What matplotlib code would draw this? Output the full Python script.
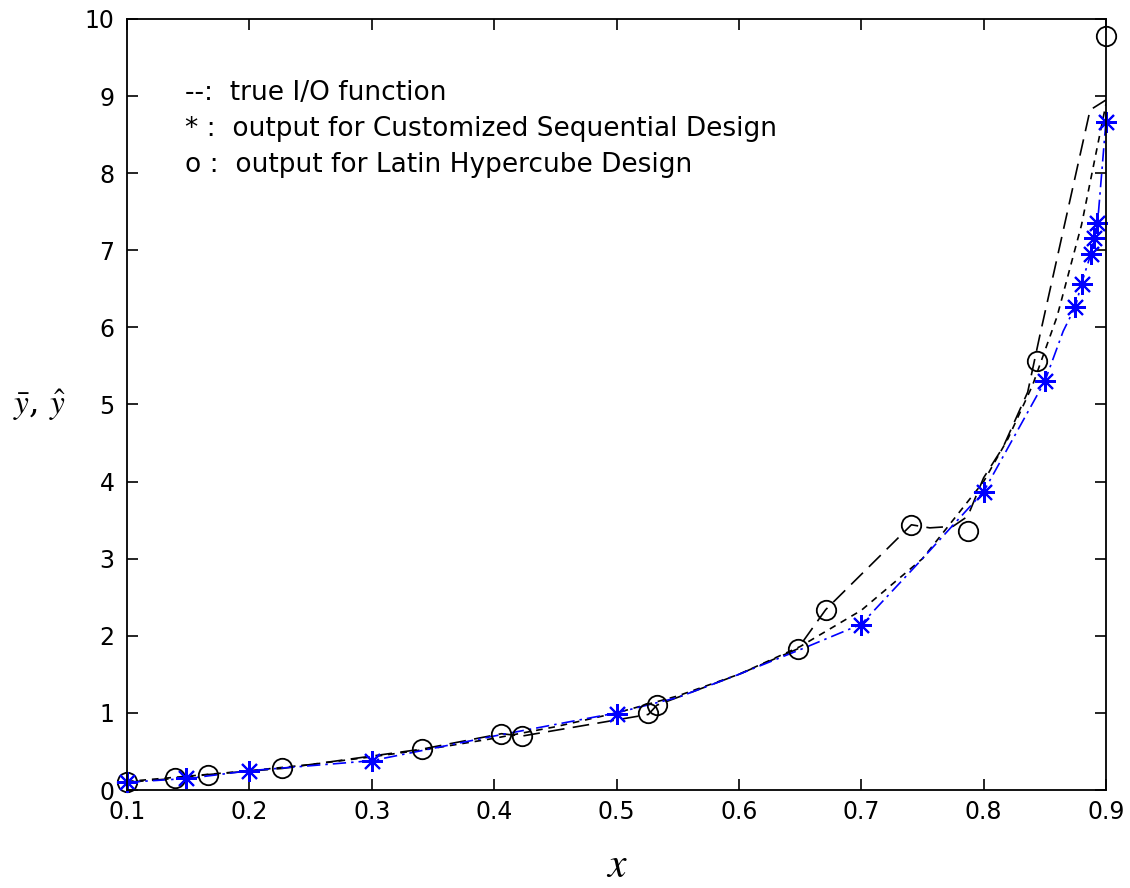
import matplotlib
matplotlib.use("Agg")
import matplotlib.pyplot as plt

# ---- data ----
true_x = [0.10, 0.15, 0.20, 0.25, 0.30, 0.35, 0.40, 0.45, 0.50, 0.55, 0.60, 0.65,
          0.70, 0.75, 0.80, 0.82, 0.84, 0.86, 0.88, 0.90]
true_y = [0.11, 0.18, 0.25, 0.33, 0.43, 0.54, 0.67, 0.82, 1.00, 1.22, 1.50, 1.86,
          2.33, 3.00, 4.00, 4.56, 5.25, 6.14, 7.33, 8.90]

lhd_line_x = [0.10, 0.139, 0.166, 0.227, 0.341, 0.406, 0.423, 0.526, 0.533, 0.60,
              0.648, 0.671, 0.741, 0.756, 0.775, 0.787, 0.80, 0.816, 0.836, 0.846,
              0.887, 0.90]
lhd_line_y = [0.10, 0.15, 0.20, 0.28, 0.53, 0.73, 0.70, 0.98, 1.10, 1.50,
              1.83, 2.34, 3.44, 3.40, 3.42, 3.55, 4.05, 4.45, 5.16, 5.90,
              8.82, 8.95]

lhd_obs_x = [0.10, 0.139, 0.166, 0.227, 0.341, 0.406, 0.423, 0.526, 0.533, 0.648,
             0.671, 0.741, 0.787, 0.844, 0.90]
lhd_obs_y = [0.10, 0.15, 0.20, 0.28, 0.53, 0.73, 0.70, 1.00, 1.10, 1.83,
             2.34, 3.44, 3.36, 5.56, 9.78]

csd_line_x = [0.10, 0.15, 0.20, 0.30, 0.40, 0.50, 0.55, 0.60, 0.65, 0.70, 0.75,
              0.80, 0.85, 0.865, 0.875, 0.88, 0.888, 0.89, 0.893, 0.90]
csd_line_y = [0.10, 0.15, 0.25, 0.38, 0.70, 1.00, 1.20, 1.50, 1.82, 2.15, 3.00,
              3.87, 5.30, 5.95, 6.27, 6.57, 6.97, 7.15, 7.33, 8.68]

csd_obs_x = [0.10, 0.148, 0.20, 0.30, 0.50, 0.70, 0.80, 0.85, 0.875, 0.880,
             0.888, 0.890, 0.893, 0.90]
csd_obs_y = [0.10, 0.15, 0.25, 0.38, 0.99, 2.14, 3.87, 5.30, 6.27, 6.56,
             6.95, 7.16, 7.35, 8.66]

legend_lines = ["--:  true I/O function",
                "* :  output for Customized Sequential Design",
                "o :  output for Latin Hypercube Design"]

x_ticks = [0.1, 0.2, 0.3, 0.4, 0.5, 0.6, 0.7, 0.8, 0.9]
y_ticks = list(range(0, 11))

# ---- figure ----
plt.rcParams['font.family'] = ['DejaVu Sans']
plt.rcParams['mathtext.fontset'] = 'stix'

fig = plt.figure(figsize=(11.3, 8.88), dpi=100)
ax = fig.add_axes([127/1130, 1-790/888, (1106-127)/1130, (790-19)/888])

ax.plot(true_x, true_y, color='black', lw=1.2, ls=(0, (4, 3.5)))
ax.plot(lhd_line_x, lhd_line_y, color='black', lw=1.2, ls=(0, (10, 5)))
ax.plot(csd_line_x, csd_line_y, color='blue', lw=1.2, ls=(0, (8, 3, 1.5, 3)))
ax.plot(lhd_obs_x, lhd_obs_y, ls='none', marker='o', mfc='none', mec='black',
        ms=14, mew=1.3, clip_on=False)
ax.plot(csd_obs_x, csd_obs_y, ls='none', marker=(8, 2, 0), color='blue',
        ms=15, mew=1.5, clip_on=False)

ax.set_xlim(0.1, 0.9)
ax.set_ylim(0, 10)
ax.set_xticks(x_ticks)
ax.set_xticklabels([f"{v:g}" for v in x_ticks])
ax.set_yticks(y_ticks)
ax.tick_params(direction='in', top=True, right=True, length=8, width=1.2,
               labelsize=17)
ax.tick_params(axis='x', pad=7)
ax.tick_params(axis='y', pad=9)
for sp in ax.spines.values():
    sp.set_linewidth(1.3)

for i, t in enumerate(legend_lines):
    fig.text(185/1130, 1-(93 + 36*i)/888, t, fontsize=19, va='center', ha='left')

fig.text(40/1130, 1-405/888, r"$\bar{y}$, $\hat{y}$", fontsize=24,
         ha='center', va='center', family='serif')
fig.text(617/1130, 1-865/888, r"$x$", fontsize=30, ha='center', va='center')

fig.savefig("out.png", dpi=100)
